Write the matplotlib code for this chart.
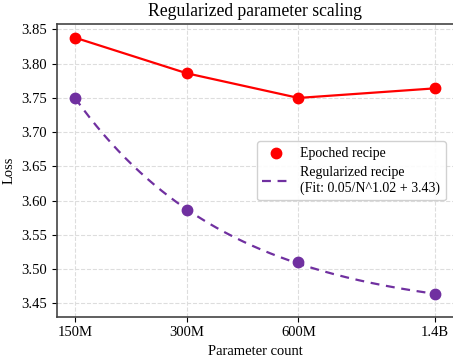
import numpy as np
import matplotlib
matplotlib.use("Agg")
import matplotlib.pyplot as plt
from matplotlib.ticker import FixedLocator, FixedFormatter, NullLocator

plt.rcParams["font.family"] = ["Liberation Serif", "DejaVu Serif"]
plt.rcParams["font.size"] = 10.5

# model sizes (billions of parameters)
params = [0.15, 0.3, 0.6, 1.4]
tick_labels = ["150M", "300M", "600M", "1.4B"]

epoched_loss = [3.838, 3.786, 3.750, 3.764]
regularized_loss = [3.750, 3.586, 3.510, 3.463]

fit_label = "Regularized recipe\n(Fit: 0.05/N^1.02 + 3.43)"

red = "#ff0000"
purple = "#7030a0"


def fit_power_law(n, y):
    # y = a / n^b + c ; scan exponent, solve a, c by least squares
    n, y = np.asarray(n), np.asarray(y)
    best = None
    for b in np.linspace(0.3, 3.0, 2701):
        A = np.column_stack([n ** -b, np.ones_like(n)])
        coef, *_ = np.linalg.lstsq(A, y, rcond=None)
        err = np.sum((A @ coef - y) ** 2)
        if best is None or err < best[0]:
            best = (err, coef[0], b, coef[1])
    return best[1:]


a, b, c = fit_power_law(params, regularized_loss)
n_dense = np.geomspace(params[0], params[-1], 200)

fig = plt.figure(figsize=(4.53, 3.58), dpi=100)
ax = fig.add_axes([0.126, 0.1154, 0.874, 0.8176])

ax.plot(params, epoched_loss, color=red, lw=1.6, zorder=3)
ax.scatter(params, epoched_loss, color=red, s=56, zorder=4, label="Epoched recipe")
ax.plot(n_dense, a / n_dense ** b + c, color=purple, lw=1.6, ls="--", dashes=(4, 3),
        zorder=3, label=fit_label)
ax.scatter(params, regularized_loss, color=purple, s=56, zorder=4)

ax.set_xscale("log")
ax.xaxis.set_major_locator(FixedLocator(params))
ax.xaxis.set_major_formatter(FixedFormatter(tick_labels))
ax.xaxis.set_minor_locator(NullLocator())
ax.set_ylim(3.4305, 3.858)
ax.set_yticks([3.45, 3.50, 3.55, 3.60, 3.65, 3.70, 3.75, 3.80, 3.85])

ax.grid(True, ls="--", color="#dddddd", lw=0.8)
ax.set_axisbelow(True)
for side in ("left", "bottom", "top"):
    ax.spines[side].set_color("#444444")
    ax.spines[side].set_linewidth(1.2)
ax.spines["right"].set_visible(False)

ax.set_xlabel("Parameter count")
ax.set_ylabel("Loss")
ax.set_title("Regularized parameter scaling", fontsize=12.7)

ax.legend(loc="center right", bbox_to_anchor=(1.0, 0.498), frameon=True,
          fancybox=True, framealpha=0.9, edgecolor="#cccccc", fontsize=10,
          handlelength=1.95, handletextpad=0.8, borderpad=0.4, labelspacing=0.45)

fig.savefig("out.png", dpi=100)
